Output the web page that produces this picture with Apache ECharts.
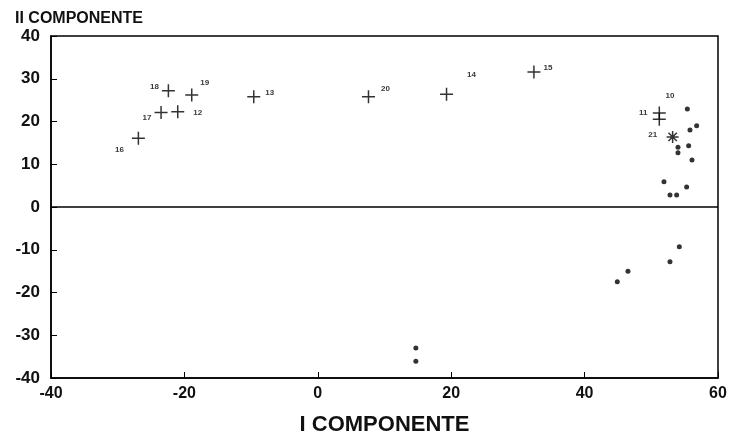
<!DOCTYPE html>
<html>
<head>
<meta charset="utf-8">
<script src="https://cdn.jsdelivr.net/npm/echarts@6/dist/echarts.min.js"></script>
<style>
  html, body { margin: 0; padding: 0; background: #fff; }
  #chart { width: 732px; height: 447px; }
</style>
</head>
<body>
<div id="chart"></div>
<script>
// punti "+" con etichetta (x, y, numero)
var plusPoints = [
  [-26.9, 16.1, "16"],
  [-23.5, 22.1, "17"],
  [-21.0, 22.3, "12"],
  [-22.4, 27.2, "18"],
  [-18.9, 26.2, "19"],
  [-9.6, 25.8, "13"],
  [7.6, 25.8, "20"],
  [19.3, 26.4, "14"],
  [32.4, 31.6, "15"],
  [51.2, 22.0, "11"],
  [51.2, 20.5, ""]
];
// punti piccoli
var dotPoints = [
  [55.4, 22.9], [56.8, 19.0], [55.8, 18.0],
  [54.0, 14.0], [54.0, 12.7], [55.6, 14.3], [56.1, 11.0],
  [51.9, 5.9], [55.3, 4.7], [52.8, 2.8], [53.8, 2.8],
  [54.2, -9.3], [52.8, -12.8], [46.5, -15.0], [44.9, -17.5],
  [14.7, -33.0], [14.7, -36.1]
];
// etichette sole
var textPoints = [
  [52.8, 26.1, "10"],
  [50.2, 16.9, "21"]
];
var starPoint = [[53.2, 16.4]];
var xTicks = [-40, -20, 0, 20, 40, 60];
var yTicks = [-40, -30, -20, -10, 0, 10, 20, 30, 40];

// spostamento delle etichette rispetto al "+" (px)
var labelShift = [
  [-19, 12], [-14, 5], [20, 1], [-14, -4], [13, -12],
  [16, -4], [17, -8], [25, -19], [14, -4], [-16, 0], [0, 0]
];

var font = "Liberation Sans";
var chart = echarts.init(document.getElementById("chart"));
var option = {
  animation: false,
  grid: { left: 51, right: 14, top: 36, bottom: 69, show: true, borderColor: "#000", borderWidth: 1.5 },
  title: {
    text: "II COMPONENTE", left: 10, top: 6,
    textStyle: { fontFamily: font, fontSize: 16, fontWeight: "bold", color: "#111" }
  },
  xAxis: {
    type: "value", min: xTicks[0], max: xTicks[xTicks.length - 1], interval: 20,
    name: "I COMPONENTE", nameLocation: "middle", nameGap: 36,
    nameTextStyle: { fontFamily: font, fontSize: 22, fontWeight: "bold", color: "#111" },
    axisLine: { show: true, onZero: false, lineStyle: { color: "#000", width: 1.5 } },
    axisTick: { show: true, inside: true, length: 6, lineStyle: { color: "#000" } },
    axisLabel: { fontFamily: font, fontSize: 16, fontWeight: "bold", color: "#111", margin: 8 },
    splitLine: { show: false }
  },
  yAxis: {
    type: "value", min: yTicks[0], max: yTicks[yTicks.length - 1], interval: 10,
    axisLine: { show: true, onZero: false, lineStyle: { color: "#000", width: 1.5 } },
    axisTick: { show: true, inside: true, length: 6, lineStyle: { color: "#000" } },
    axisLabel: { fontFamily: font, fontSize: 17, fontWeight: "bold", color: "#111", margin: 11 },
    splitLine: { show: false }
  },
  series: [
    {
      type: "scatter",
      data: plusPoints.map(function (p) { return [p[0], p[1]]; }),
      symbol: "path://M0,5 L10,5 M5,0 L5,10",
      symbolSize: 13,
      itemStyle: { color: "none", borderColor: "#000", borderWidth: 1.5 },
      label: {
        show: true,
        formatter: function (p) { return plusPoints[p.dataIndex][2]; },
        position: "inside",
        fontFamily: font, fontSize: 8, fontWeight: "bold", color: "#000"
      },
      labelLayout: function (p) {
        var s = labelShift[p.dataIndex];
        return {
          x: p.rect.x + p.rect.width / 2 + s[0],
          y: p.rect.y + p.rect.height / 2 + s[1],
          align: "center", verticalAlign: "middle"
        };
      },
      markLine: {
        silent: true, symbol: "none", label: { show: false },
        lineStyle: { color: "#000", width: 1.5, type: "solid" },
        data: [{ yAxis: 0 }]
      }
    },
    {
      type: "scatter",
      data: dotPoints,
      symbol: "circle",
      symbolSize: 5,
      itemStyle: { color: "#000" }
    },
    {
      type: "scatter",
      data: textPoints.map(function (p) { return [p[0], p[1]]; }),
      symbolSize: 0,
      label: {
        show: true, position: "inside",
        formatter: function (p) { return textPoints[p.dataIndex][2]; },
        fontFamily: font, fontSize: 8, fontWeight: "bold", color: "#000"
      }
    },
    {
      type: "scatter",
      data: starPoint,
      symbol: "path://M0,5 L10,5 M5,0 L5,10 M1.5,1.5 L8.5,8.5 M8.5,1.5 L1.5,8.5",
      symbolSize: 12,
      itemStyle: { color: "none", borderColor: "#000", borderWidth: 1.5 }
    }
  ]
};
chart.setOption(option);
</script>
</body>
</html>
